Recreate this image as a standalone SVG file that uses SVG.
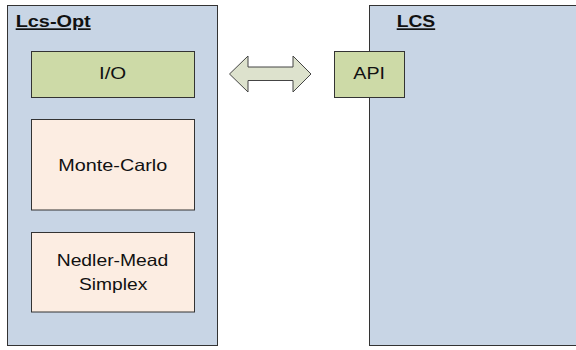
<svg xmlns="http://www.w3.org/2000/svg" width="576" height="350" viewBox="0 0 576 350">
<style>
.panel{fill:#c8d5e5;stroke:#333;stroke-width:1}
.green{fill:#cddaa7;stroke:#333;stroke-width:1}
.peach{fill:#fcede2;stroke:#333;stroke-width:1}
.t{font-family:"Liberation Sans",Arial,sans-serif;font-size:16.5px;fill:#111}
.h{font-family:"Liberation Sans",Arial,sans-serif;font-size:17px;font-weight:bold;fill:#111;text-decoration:underline}
</style>
<rect width="576" height="350" fill="#fff"/>
<g id="lcs-opt">
<rect class="panel" x="7.5" y="5.5" width="210" height="340"/>
<text class="h" x="15.7" y="27.3" textLength="75" lengthAdjust="spacingAndGlyphs">Lcs-Opt</text>
</g>
<g id="lcs">
<rect class="panel" x="369.5" y="5.5" width="212" height="340"/>
<text class="h" x="396.7" y="27.3" textLength="38.5" lengthAdjust="spacingAndGlyphs">LCS</text>
</g>
<g id="io">
<rect class="green" x="31.5" y="51.5" width="163" height="46"/>
<text class="t" x="99" y="79" textLength="27.3" lengthAdjust="spacingAndGlyphs">I/O</text>
</g>
<g id="monte-carlo">
<rect class="peach" x="31.5" y="119.5" width="163" height="90.5"/>
<text class="t" x="58.3" y="170.5" textLength="109" lengthAdjust="spacingAndGlyphs">Monte-Carlo</text>
</g>
<g id="nedler-mead">
<rect class="peach" x="31.5" y="232.5" width="163" height="79.5"/>
<text class="t" x="56.7" y="266" textLength="111.6" lengthAdjust="spacingAndGlyphs">Nedler-Mead</text>
<text class="t" x="79" y="289.5" textLength="68.3" lengthAdjust="spacingAndGlyphs">Simplex</text>
</g>
<g id="api">
<rect class="green" x="334.5" y="51.5" width="70" height="46"/>
<text class="t" x="353.3" y="79" textLength="31.7" lengthAdjust="spacingAndGlyphs">API</text>
</g>
<g id="connectors">
<path d="M229.5,74 L248,56 L248,67 L293,67 L293,56 L311,74 L293,92 L293,80.5 L248,80.5 L248,92 Z" fill="#dde2cd" stroke="#444" stroke-width="1"/>
</g>
</svg>
